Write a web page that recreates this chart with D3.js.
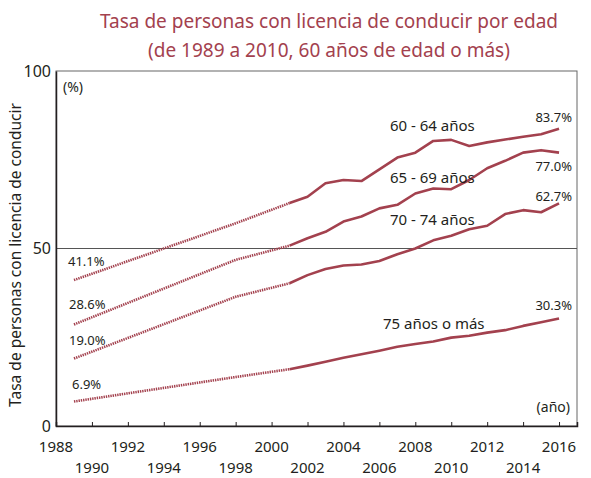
<!DOCTYPE html>
<html>
<head>
<meta charset="utf-8">
<script src="https://cdn.jsdelivr.net/npm/d3@7"></script>
<style>
  body { margin: 0; background: #fff; }
  text { font-family: "Noto Sans", sans-serif; fill: #231f20; }
</style>
</head>
<body>
<svg id="chart"></svg>
<script>
// Data
const years = [1989, 1998, 2001, 2002, 2003, 2004, 2005, 2006, 2007, 2008, 2009, 2010, 2011, 2012, 2013, 2014, 2015, 2016];
const age60to64 = [41.1, 57.1, 62.8, 64.6, 68.4, 69.3, 69.0, 72.3, 75.6, 77.0, 80.3, 80.6, 78.9, 79.9, 80.7, 81.5, 82.2, 83.7];
const age65to69 = [28.6, 46.8, 50.8, 52.9, 54.7, 57.6, 59.0, 61.3, 62.3, 65.5, 66.9, 66.7, 69.3, 72.6, 74.7, 77.0, 77.7, 77.0];
const age70to74 = [19.0, 36.4, 40.2, 42.5, 44.2, 45.2, 45.5, 46.5, 48.4, 50.0, 52.3, 53.6, 55.4, 56.4, 59.7, 60.8, 60.2, 62.7];
const age75plus = [6.9, 13.8, 16.0, 17.0, 18.1, 19.2, 20.2, 21.2, 22.3, 23.1, 23.8, 24.9, 25.4, 26.3, 27.0, 28.2, 29.2, 30.3];
const seriesNames = ["60 - 64 años", "65 - 69 años", "70 - 74 años", "75 años o más"];
const xTicks = d3.range(1988, 2017, 2);
const yTicks = [0, 50, 100];

const series = [age60to64, age65to69, age70to74, age75plus];
const lineColor = "#a3414e";

const W = 591, H = 478;
const svg = d3.select("#chart").attr("width", W).attr("height", H);

const x = d3.scaleLinear().domain([1988, 2017]).range([56, 577]);
const y = d3.scaleLinear().domain([0, 100]).range([426, 71]);

// Title
svg.append("text")
    .attr("x", 329).attr("y", 28)
    .attr("text-anchor", "middle")
    .style("font-size", "19px")
    .style("fill", lineColor)
    .text("Tasa de personas con licencia de conducir por edad");
svg.append("text")
    .attr("x", 329).attr("y", 57)
    .attr("text-anchor", "middle")
    .style("font-size", "19px")
    .style("fill", lineColor)
    .text("(de 1989 a 2010, 60 años de edad o más)");

// Frame
svg.append("rect")
    .attr("x", x(1988)).attr("y", y(100))
    .attr("width", x(2017) - x(1988)).attr("height", y(0) - y(100))
    .attr("fill", "none").attr("stroke", "#666").attr("stroke-width", 1);

// 50% line
svg.append("line")
    .attr("x1", x(1988)).attr("x2", x(2017))
    .attr("y1", y(50)).attr("y2", y(50))
    .attr("stroke", "#555").attr("stroke-width", 1);

// Axes
const xAxis = svg.append("g")
    .attr("transform", `translate(0,${y(0)})`)
    .call(d3.axisBottom(x).tickValues(xTicks).tickSize(-4).tickFormat(""));
xAxis.select(".domain").attr("stroke", "#231f20").attr("stroke-width", 1.5);
xAxis.selectAll(".tick line").attr("stroke", "#231f20").attr("stroke-width", 1);

svg.selectAll(".xlab")
    .data(xTicks)
    .enter()
    .append("text")
    .attr("class", "xlab")
    .attr("x", d => x(d))
    .attr("y", (d, i) => i % 2 === 0 ? 452 : 473)
    .attr("text-anchor", "middle")
    .style("font-size", "15px")
    .text(d => d);

const yAxis = svg.append("g")
    .attr("transform", `translate(${x(1988)},0)`)
    .call(d3.axisLeft(y).tickValues(yTicks).tickSize(0).tickPadding(5));
yAxis.select(".domain").attr("stroke", "#231f20").attr("stroke-width", 1.5);
yAxis.selectAll("text")
    .style("font-family", "'Noto Sans', sans-serif")
    .style("font-size", "16px")
    .style("fill", "#231f20");

svg.append("text")
    .attr("transform", `translate(21,255) rotate(-90)`)
    .attr("text-anchor", "middle")
    .style("font-size", "15.5px")
    .text("Tasa de personas con licencia de conducir");

svg.append("text")
    .attr("x", 63).attr("y", 92)
    .style("font-size", "14px")
    .text("(%)");
svg.append("text")
    .attr("x", 570).attr("y", 412)
    .attr("text-anchor", "end")
    .style("font-size", "14px")
    .text("(año)");

// Lines: dotted up to 2001, solid from 2001
const line = d3.line()
    .x(d => x(d[0]))
    .y(d => y(d[1]));

series.forEach(vals => {
    const pts = years.map((yr, i) => [yr, vals[i]]);
    svg.append("path")
        .datum(pts.filter(d => d[0] <= 2001))
        .attr("d", line)
        .attr("fill", "none")
        .attr("stroke", lineColor)
        .attr("stroke-width", 2.6)
        .attr("stroke-dasharray", "1.4,0.9");
    svg.append("path")
        .datum(pts.filter(d => d[0] >= 2001))
        .attr("d", line)
        .attr("fill", "none")
        .attr("stroke", lineColor)
        .attr("stroke-width", 2.6)
        .attr("stroke-linejoin", "round");
});

// Series names
const nameX = [390, 390, 390, 383];
const nameY = [131, 183, 225, 329];
seriesNames.forEach((n, i) => {
    svg.append("text")
        .attr("x", nameX[i]).attr("y", nameY[i])
        .style("font-size", "15px")
        .text(n);
});

// Start and end value labels
const startY = [266, 309, 345, 389];
const startX = [68, 69, 69, 72];
const endY = [122, 171, 201, 310];
series.forEach((vals, i) => {
    svg.append("text")
        .attr("x", startX[i]).attr("y", startY[i])
        .style("font-size", "13px")
        .text(vals[0].toFixed(1) + "%");
    svg.append("text")
        .attr("x", 572).attr("y", endY[i])
        .attr("text-anchor", "end")
        .style("font-size", "13px")
        .text(vals[vals.length - 1].toFixed(1) + "%");
});
</script>
</body>
</html>
